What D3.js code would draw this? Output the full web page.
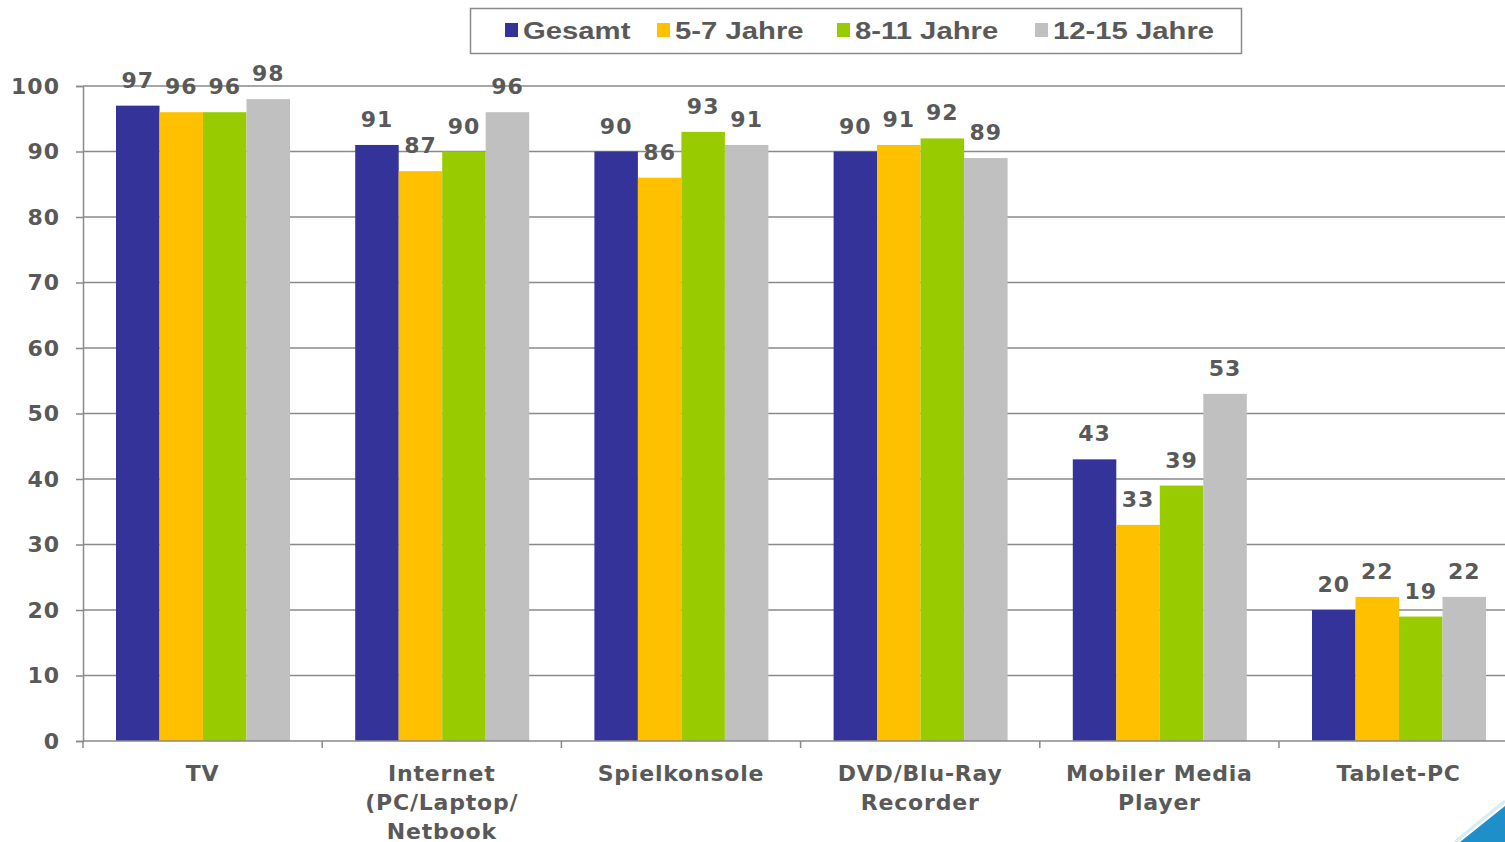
<!DOCTYPE html>
<html>
<head>
<meta charset="utf-8">
<script src="https://cdn.jsdelivr.net/npm/d3@7"></script>
<style>
  html, body { margin: 0; padding: 0; background: #fff; }
  svg { display: block; }
</style>
</head>
<body>
<div id="chart"></div>
<script>
// data
const categories = ["TV", "Internet (PC/Laptop/ Netbook", "Spielkonsole", "DVD/Blu-Ray Recorder", "Mobiler Media Player", "Tablet-PC"];
const categoryLines = [["TV"], ["Internet", "(PC/Laptop/", "Netbook"], ["Spielkonsole"], ["DVD/Blu-Ray", "Recorder"], ["Mobiler Media", "Player"], ["Tablet-PC"]];
const seriesNames = ["Gesamt", "5-7 Jahre", "8-11 Jahre", "12-15 Jahre"];
const gesamt = [97, 91, 90, 90, 43, 20];
const jahre5_7 = [96, 87, 86, 91, 33, 22];
const jahre8_11 = [96, 90, 93, 92, 39, 19];
const jahre12_15 = [98, 96, 91, 89, 53, 22];
const yTicks = [0, 10, 20, 30, 40, 50, 60, 70, 80, 90, 100];
const colors = ["#333399", "#ffc000", "#99cc00", "#c0c0c0"];

const seriesValues = [gesamt, jahre5_7, jahre8_11, jahre12_15];
const rows = categories.map((c, i) => ({
    cat: c,
    lines: categoryLines[i],
    values: seriesNames.map((s, j) => ({ series: s, value: seriesValues[j][i] }))
}));

const width = 1505, height = 842;
const plotLeft = 83, plotBottom = 741, plotTop = 86;
const step = 239.2;

const svg = d3.select("#chart").append("svg")
    .attr("width", width)
    .attr("height", height);

const x0 = d3.scaleBand()
    .domain(categories)
    .range([plotLeft, plotLeft + step * categories.length])
    .padding(0);

const x1 = d3.scaleBand()
    .domain(seriesNames)
    .range([33, 207])
    .padding(0);

const y = d3.scaleLinear()
    .domain([0, 100])
    .range([plotBottom, plotTop]);

const color = d3.scaleOrdinal().domain(seriesNames).range(colors);

const textColor = "#595959";
const lineColor = "#8a8a8a";

// gridlines
svg.append("g")
    .selectAll("line")
    .data(yTicks.filter(d => d > 0))
    .join("line")
    .attr("x1", plotLeft)
    .attr("x2", width)
    .attr("y1", d => y(d))
    .attr("y2", d => y(d))
    .attr("stroke", lineColor)
    .attr("stroke-width", 1.5);

// y axis
const yAxis = svg.append("g")
    .attr("transform", `translate(${plotLeft},0)`)
    .call(d3.axisLeft(y).tickValues(yTicks).tickSize(7).tickPadding(16));
yAxis.select(".domain").attr("stroke", lineColor).attr("stroke-width", 1.5);
yAxis.selectAll(".tick line").attr("stroke", lineColor).attr("stroke-width", 1.5);
yAxis.selectAll(".tick text")
    .attr("fill", textColor)
    .style("font-family", "'DejaVu Sans', Verdana, sans-serif")
    .style("font-weight", "bold")
    .style("font-size", "22px")
    .style("letter-spacing", "1px");

// bars
const groups = svg.append("g")
    .selectAll("g")
    .data(rows)
    .join("g")
    .attr("transform", d => `translate(${x0(d.cat)},0)`);

groups.selectAll("rect")
    .data(d => d.values)
    .join("rect")
    .attr("x", d => x1(d.series))
    .attr("y", d => y(d.value))
    .attr("width", x1.bandwidth())
    .attr("height", d => y(0) - y(d.value))
    .attr("fill", d => color(d.series));

// value labels
groups.selectAll("text")
    .data(d => d.values)
    .join("text")
    .attr("x", d => x1(d.series) + x1.bandwidth() / 2)
    .attr("y", d => y(d.value) - 18)
    .attr("text-anchor", "middle")
    .attr("fill", textColor)
    .style("font-family", "'DejaVu Sans', Verdana, sans-serif")
    .style("font-weight", "bold")
    .style("font-size", "22px")
    .style("letter-spacing", "1px")
    .text(d => d.value);

// x axis line + boundary ticks
svg.append("line")
    .attr("x1", plotLeft).attr("x2", width)
    .attr("y1", plotBottom).attr("y2", plotBottom)
    .attr("stroke", lineColor).attr("stroke-width", 1.5);

svg.append("g")
    .selectAll("line")
    .data(categories)
    .join("line")
    .attr("x1", d => x0(d)).attr("x2", d => x0(d))
    .attr("y1", plotBottom).attr("y2", plotBottom + 7)
    .attr("stroke", lineColor).attr("stroke-width", 1.5);

// category labels
svg.append("g")
    .selectAll("text")
    .data(rows)
    .join("text")
    .attr("x", d => x0(d.cat) + x0.bandwidth() / 2)
    .attr("y", 781)
    .attr("text-anchor", "middle")
    .attr("fill", textColor)
    .style("font-family", "'DejaVu Sans', Verdana, sans-serif")
    .style("font-weight", "bold")
    .style("font-size", "22px")
    .style("letter-spacing", "0.8px")
    .each(function(d) {
        const t = d3.select(this);
        d.lines.forEach((ln, i) => {
            t.append("tspan")
                .attr("x", x0(d.cat) + x0.bandwidth() / 2)
                .attr("dy", i === 0 ? 0 : 29)
                .text(ln);
        });
    });

// legend
const legend = svg.append("g");
legend.append("rect")
    .attr("x", 470.5).attr("y", 8.5)
    .attr("width", 771).attr("height", 45)
    .attr("fill", "#fff")
    .attr("stroke", "#8a8a8a")
    .attr("stroke-width", 1.5);

const legendX = [505, 657, 837, 1035];
const items = legend.selectAll("g")
    .data(seriesNames)
    .join("g")
    .attr("transform", (d, i) => `translate(${legendX[i]},0)`);

items.append("rect")
    .attr("x", 0).attr("y", 23)
    .attr("width", 13).attr("height", 14)
    .attr("fill", d => color(d));

items.append("text")
    .attr("transform", "translate(18,39) scale(1.22,1)")
    .attr("fill", textColor)
    .style("font-family", "'Liberation Sans', Arial, sans-serif")
    .style("font-size", "24px")
    .style("font-weight", "bold")
    .text(d => d);

// corner decoration
svg.append("path")
    .attr("d", `M1460,${height} L${width},806 L${width},${height} Z`)
    .attr("fill", "#1e8fc8");
svg.append("path")
    .attr("d", `M1455,${height} L${width},801`)
    .attr("stroke", "#d8ecf6")
    .attr("stroke-width", 3);
</script>
</body>
</html>
